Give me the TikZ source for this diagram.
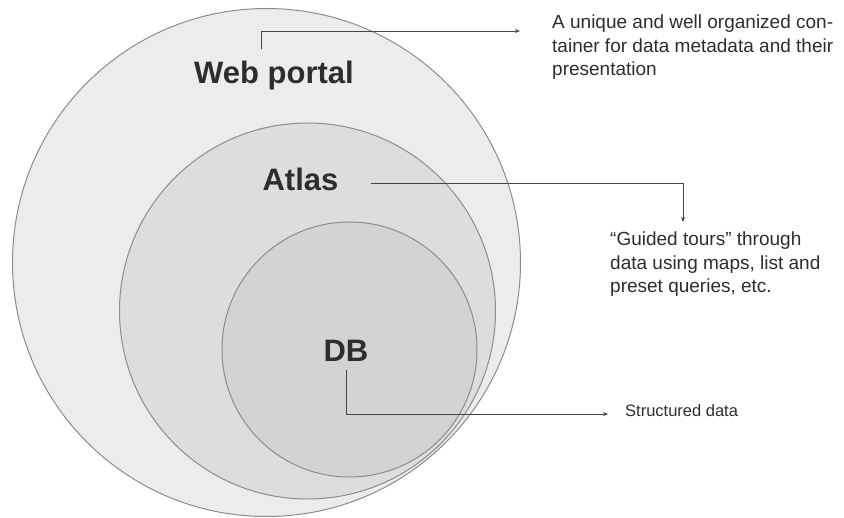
\documentclass[tikz,border=0pt]{standalone}
\usepackage{amsmath}
\usepackage{fontspec}
\setmainfont{Liberation Sans}
\usetikzlibrary{arrows.meta}

\definecolor{ringgray}{RGB}{138,140,144}
\definecolor{leadgray}{RGB}{70,70,70}
\definecolor{labelgray}{RGB}{45,45,45}
\definecolor{portalfill}{RGB}{236,236,236}
\definecolor{atlasfill}{RGB}{221,221,221}
\definecolor{dbfill}{RGB}{211,211,211}

\tikzset{
  layer/.style={circle, draw=ringgray, line width=1pt, inner sep=0pt},
  title/.style={font=\fontsize{31}{36}\selectfont\bfseries, text=labelgray, inner sep=0pt, anchor=base},
  note/.style={font=\fontsize{19}{23.5}\selectfont, text=labelgray, align=left, inner sep=0pt, anchor=base west},
  lead/.style={draw=leadgray, line width=0.9pt, -{Stealth[length=5pt,width=4pt]}}
}

\begin{document}
\begin{tikzpicture}[x=1pt,y=-1pt]
\useasboundingbox (0,0) rectangle (844,518);
\node[layer, fill=portalfill, minimum size=508pt] (portalring) at (266.5,262.5) {};
\node[layer, fill=atlasfill, minimum size=376pt] (atlasring) at (307.5,311) {};
\node[layer, fill=dbfill, minimum size=255pt] (dbring) at (349.5,349.5) {};

\node[title] (portal) at (274,84) {Web portal};
\node[title] (atlas) at (300.5,191) {Atlas};
\node[title] (db) at (346,362) {DB};

% notes are set on the baseline of their last line
\node[note] (portalnote) at (552,76) {A unique and well organized con-\\tainer for data metadata and their\\presentation};
\node[note] (atlasnote) at (610,293) {``Guided tours'' through\\data using maps, list and\\preset queries, etc.};
\node[note, font=\fontsize{16.5}{20}\selectfont] (dbnote) at (625,417) {Structured data};

\coordinate (portalend) at (520,31);
\coordinate (atlasend) at (683,222);
\coordinate (dbend) at (608,414);

\draw[lead] ([xshift=-13pt,yshift=12pt]portal.north) |- (portalend);
\draw[lead] ([xshift=32pt,yshift=-4pt]atlas.east) -| (atlasend);
\draw[lead] ([yshift=-8pt]db.south) |- (dbend);
\end{tikzpicture}
\end{document}
